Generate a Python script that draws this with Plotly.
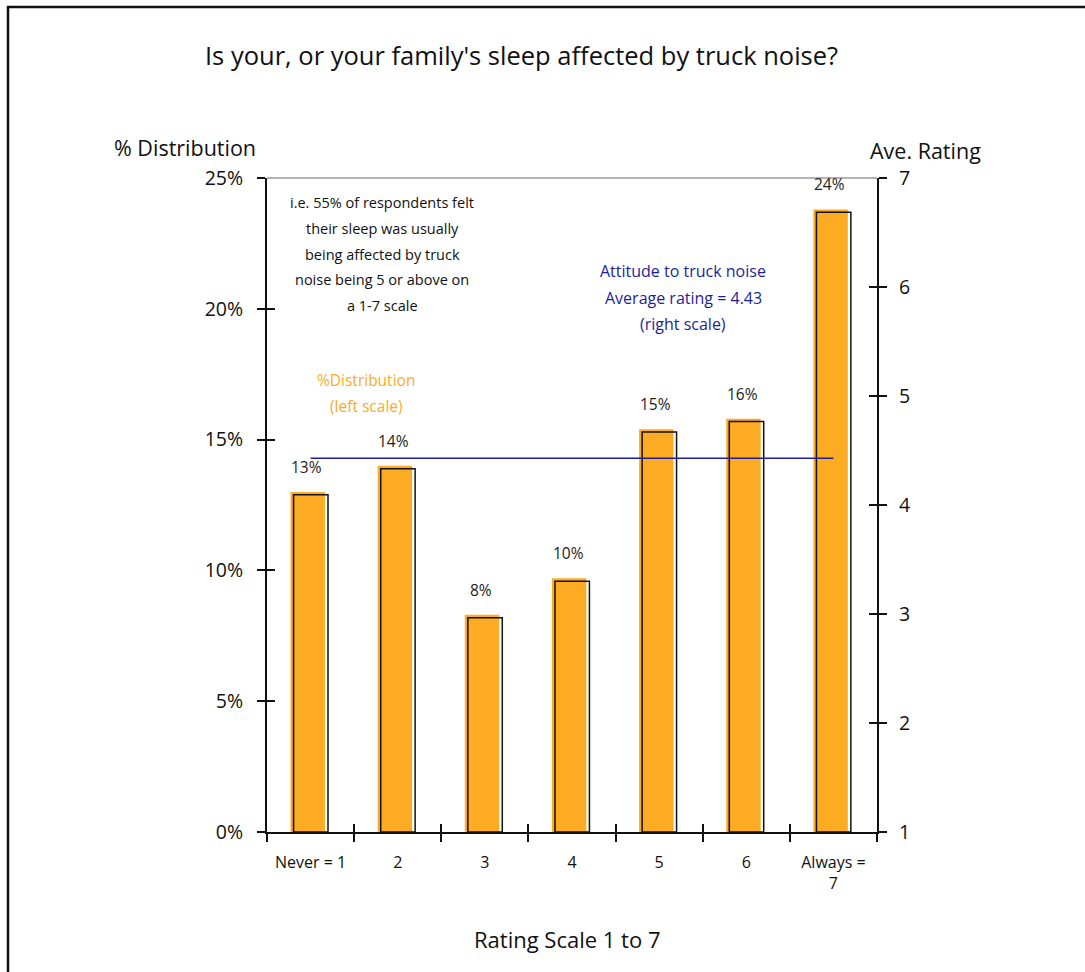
import plotly.graph_objects as go

# Survey: "Is your, or your family's sleep affected by truck noise?"
categories = ["Never = 1", "2", "3", "4", "5", "6", "Always =<br>7"]
pct_distribution = [13.0, 14.0, 8.3, 9.7, 15.4, 15.8, 23.8]
average_rating = 4.43

left_ticks = [0, 5, 10, 15, 20, 25]
left_tick_text = [f"{t}%" for t in left_ticks]
right_ticks = [1, 2, 3, 4, 5, 6, 7]

note_lines = [
    "i.e. 55% of respondents felt",
    "their sleep was usually",
    "being affected by truck",
    "noise being 5 or above on",
    "a 1-7 scale",
]
rating_lines = [
    "Attitude to truck noise",
    f"Average rating = {average_rating:.2f}",
    "(right scale)",
]
dist_lines = ["%Distribution", "(left scale)"]

ORANGE = "#FDAB22"
BLUE = "#1E1E99"
FONT = "Open Sans"

W, H = 1085, 972
ML, MR, MT, MB = 267, 208, 178, 140
PW, PH = W - ML - MR, H - MT - MB


def px_x(px):
    return (px - ML) / PW


def px_y(py):
    return (H - MB - py) / PH


fig = go.Figure()

# Filled bars
fig.add_trace(go.Bar(
    x=categories, y=pct_distribution,
    width=0.395, offset=-0.23,
    marker=dict(color=ORANGE, line=dict(width=0)),
    hoverinfo="skip", showlegend=False,
))
# Outlined "shadow" bars, nudged right and slightly lower
shadow_depth = 0.11
fig.add_trace(go.Bar(
    x=categories, y=[v - shadow_depth for v in pct_distribution],
    width=0.395, offset=-0.195,
    marker=dict(color="rgba(0,0,0,0)", line=dict(color="#111111", width=1.5)),
    hoverinfo="skip", showlegend=False,
))
# Average rating line on the right scale
fig.add_trace(go.Scatter(
    x=categories, y=[average_rating] * len(categories),
    mode="lines", line=dict(color=BLUE, width=1.5),
    yaxis="y2", hoverinfo="skip", showlegend=False,
))
# Helper traces so the inner tick marks get drawn
fig.add_trace(go.Scatter(
    x=categories, y=pct_distribution, mode="markers",
    marker=dict(opacity=0), xaxis="x2", yaxis="y3",
    hoverinfo="skip", showlegend=False,
))
fig.add_trace(go.Scatter(
    x=categories, y=[average_rating] * len(categories), mode="markers",
    marker=dict(opacity=0), xaxis="x2", yaxis="y4",
    hoverinfo="skip", showlegend=False,
))

annotations = []

# Value labels above bars (x given as category index)
for i, v in enumerate(pct_distribution):
    annotations.append(dict(
        x=i, y=v, xref="x", yref="y", text=f"{v:.0f}%",
        showarrow=False, yshift=25, xshift=-4,
        xanchor="center", yanchor="middle",
        font=dict(family=FONT, size=15.5, color="#222222"),
    ))


def paper_text(px, py, text, size, color="#111111"):
    return dict(
        x=px_x(px), y=px_y(py), xref="paper", yref="paper", text=text,
        showarrow=False, xanchor="center", yanchor="middle",
        font=dict(family=FONT, size=size, color=color),
    )


# Title and axis titles
annotations += [
    paper_text(521, 55, "Is your, or your family's sleep affected by truck noise?", 25.5),
    paper_text(185, 147, "% Distribution", 21.5),
    paper_text(926, 151, "Ave. Rating", 21.5),
    paper_text(567, 939, "Rating Scale 1 to 7", 22),
]

# Explanatory notes, one annotation per line
for i, line in enumerate(note_lines):
    annotations.append(paper_text(382, 203 + 25.5 * i, line, 14.5))
for i, line in enumerate(rating_lines):
    annotations.append(paper_text(683, 271 + 26.5 * i, line, 16, BLUE))
for i, line in enumerate(dist_lines):
    annotations.append(paper_text(366, 380 + 26 * i, line, 15.5, ORANGE))

shapes = [
    # grey top edge of the plot area
    dict(type="line", xref="paper", yref="paper", x0=0, x1=1, y0=1, y1=1,
         line=dict(color="#9a9a9a", width=1.5)),
    # outer frame (top and left)
    dict(type="line", xref="paper", yref="paper",
         x0=px_x(7), x1=px_x(1100), y0=px_y(7), y1=px_y(7),
         line=dict(color="#111111", width=2.5)),
    dict(type="line", xref="paper", yref="paper",
         x0=px_x(8), x1=px_x(8), y0=px_y(6), y1=px_y(990),
         line=dict(color="#111111", width=2.5)),
]

tick_font = dict(family=FONT, size=19.5, color="#111111")

fig.update_layout(
    width=W, height=H,
    margin=dict(l=ML, r=MR, t=MT, b=MB, pad=0),
    paper_bgcolor="white", plot_bgcolor="white",
    barmode="overlay",
    showlegend=False,
    annotations=annotations,
    shapes=shapes,
    xaxis=dict(
        type="category", categoryorder="array", categoryarray=categories,
        range=[-0.5, len(categories) - 0.5],
        tickson="boundaries", ticks="outside", ticklen=8, tickwidth=1.5,
        tickcolor="#111111", showline=True, linecolor="#111111", linewidth=2,
        showgrid=False, zeroline=False, ticklabelstandoff=15,
        tickfont=dict(family=FONT, size=16, color="#111111"),
    ),
    xaxis2=dict(
        type="category", categoryorder="array", categoryarray=categories,
        range=[-0.5, len(categories) - 0.5], overlaying="x", anchor="y",
        tickson="boundaries", ticks="inside", ticklen=8, tickwidth=1.5,
        tickcolor="#111111", showline=False, showgrid=False,
        showticklabels=False, zeroline=False,
    ),
    yaxis=dict(
        range=[0, 25], tickmode="array", tickvals=left_ticks,
        ticktext=left_tick_text,
        ticks="outside", ticklen=8, tickwidth=1.5, tickcolor="#111111",
        showline=True, linecolor="#111111", linewidth=2,
        showgrid=False, zeroline=False, ticklabelstandoff=10,
        tickfont=tick_font,
    ),
    yaxis2=dict(
        range=[1, 7], tickvals=right_ticks, overlaying="y", side="right",
        anchor="x", ticks="outside", ticklen=8, tickwidth=1.5,
        tickcolor="#111111", showline=True, linecolor="#111111", linewidth=2,
        showgrid=False, zeroline=False, ticklabelstandoff=8,
        tickfont=tick_font,
    ),
    yaxis3=dict(
        range=[0, 25], tickvals=left_ticks, overlaying="y", side="left",
        anchor="x", ticks="inside", ticklen=8, tickwidth=1.5,
        tickcolor="#111111", showline=False, showgrid=False,
        showticklabels=False, zeroline=False,
    ),
    yaxis4=dict(
        range=[1, 7], tickvals=right_ticks, overlaying="y", side="right",
        anchor="x", ticks="inside", ticklen=8, tickwidth=1.5,
        tickcolor="#111111", showline=False, showgrid=False,
        showticklabels=False, zeroline=False,
    ),
)

fig.write_html("out.html")
